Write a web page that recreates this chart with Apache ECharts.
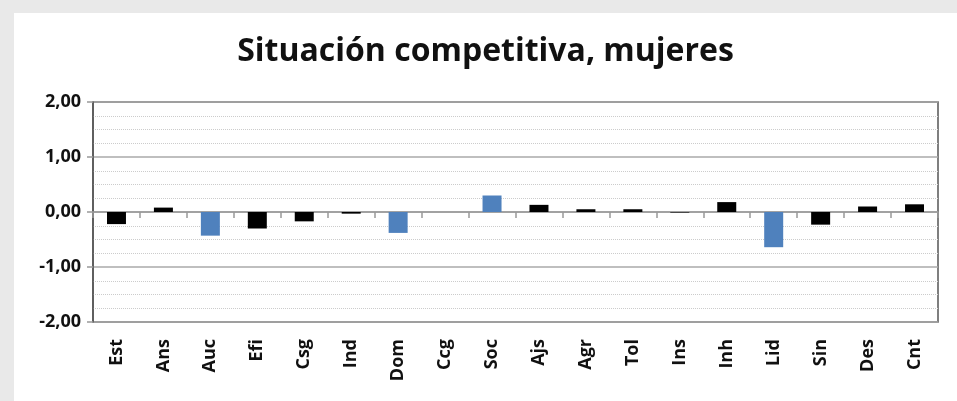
<!DOCTYPE html>
<html>
<head>
<meta charset="utf-8">
<script src="https://cdn.jsdelivr.net/npm/echarts@6/dist/echarts.min.js"></script>
<style>
  html, body { margin: 0; padding: 0; width: 957px; height: 401px; background: #e9e9e9; overflow: hidden; }
  #chart { position: absolute; left: 14px; top: 13px; width: 943px; height: 388px; background: #fff; }
</style>
</head>
<body>
<div id="chart"></div>
<script>
// categorias del eje x
const categories = ["Est", "Ans", "Auc", "Efi", "Csg", "Ind", "Dom", "Ccg", "Soc",
  "Ajs", "Agr", "Tol", "Ins", "Inh", "Lid", "Sin", "Des", "Cnt"];
// valores
const values = [-0.22, 0.08, -0.43, -0.30, -0.17, -0.03, -0.38, 0.0, 0.30,
  0.13, 0.05, 0.05, -0.01, 0.18, -0.64, -0.23, 0.10, 0.14];
// barras resaltadas en azul
const highlighted = ["Auc", "Dom", "Soc", "Lid"];
const yTicks = [-2, -1, 0, 1, 2];

const myChart = echarts.init(document.getElementById("chart"));
const labelFont = "'Open Sans', sans-serif";

const option = {
  animation: false,
  title: {
    text: "Situación competitiva, mujeres",
    left: "center",
    top: 18,
    textStyle: { fontFamily: labelFont, fontSize: 32, fontWeight: "bold", color: "#111" },
  },
  grid: {
    left: 79,
    right: 19,
    top: 89,
    bottom: 79,
    show: true,
    borderColor: "#555",
    borderWidth: 1.5,
    backgroundColor: "transparent",
  },
  xAxis: [
    {
      type: "category",
      data: categories,
      axisLine: { show: false, onZero: false },
      axisTick: { show: false },
      axisLabel: {
        rotate: 90,
        margin: 17,
        interval: 0,
        fontFamily: labelFont,
        fontSize: 18,
        fontWeight: "bold",
        color: "#111",
      },
    },
    {
      type: "category",
      data: categories,
      position: "bottom",
      axisLine: { show: true, onZero: true, lineStyle: { color: "#999", width: 1.5 } },
      axisTick: { show: true, length: 6, interval: 0, lineStyle: { color: "#999", width: 1.5 } },
      axisLabel: { show: false },
    },
  ],
  yAxis: {
    type: "value",
    min: yTicks[0],
    max: yTicks[yTicks.length - 1],
    interval: 1,
    axisLine: { show: true, lineStyle: { color: "#555", width: 1.5 } },
    axisTick: { show: true, length: 6, lineStyle: { color: "#999", width: 1.5 } },
    axisLabel: {
      margin: 12,
      fontFamily: labelFont,
      fontSize: 18,
      fontWeight: "bold",
      color: "#111",
      formatter: (v) => v.toFixed(2).replace(".", ","),
    },
    splitLine: { show: true, lineStyle: { color: "#aaa", width: 1.5 } },
    minorTick: { show: false, splitNumber: 4 },
    minorSplitLine: { show: true, lineStyle: { color: "#ccc", type: [1, 1], width: 1 } },
  },
  series: [
    {
      type: "bar",
      xAxisIndex: 0,
      barWidth: 19,
      data: values.map((v, i) => ({
        value: v,
        itemStyle: { color: highlighted.includes(categories[i]) ? "#4f81bd" : "#000" },
      })),
    },
  ],
};

myChart.setOption(option);
window.addEventListener("resize", () => myChart.resize());
</script>
</body>
</html>
